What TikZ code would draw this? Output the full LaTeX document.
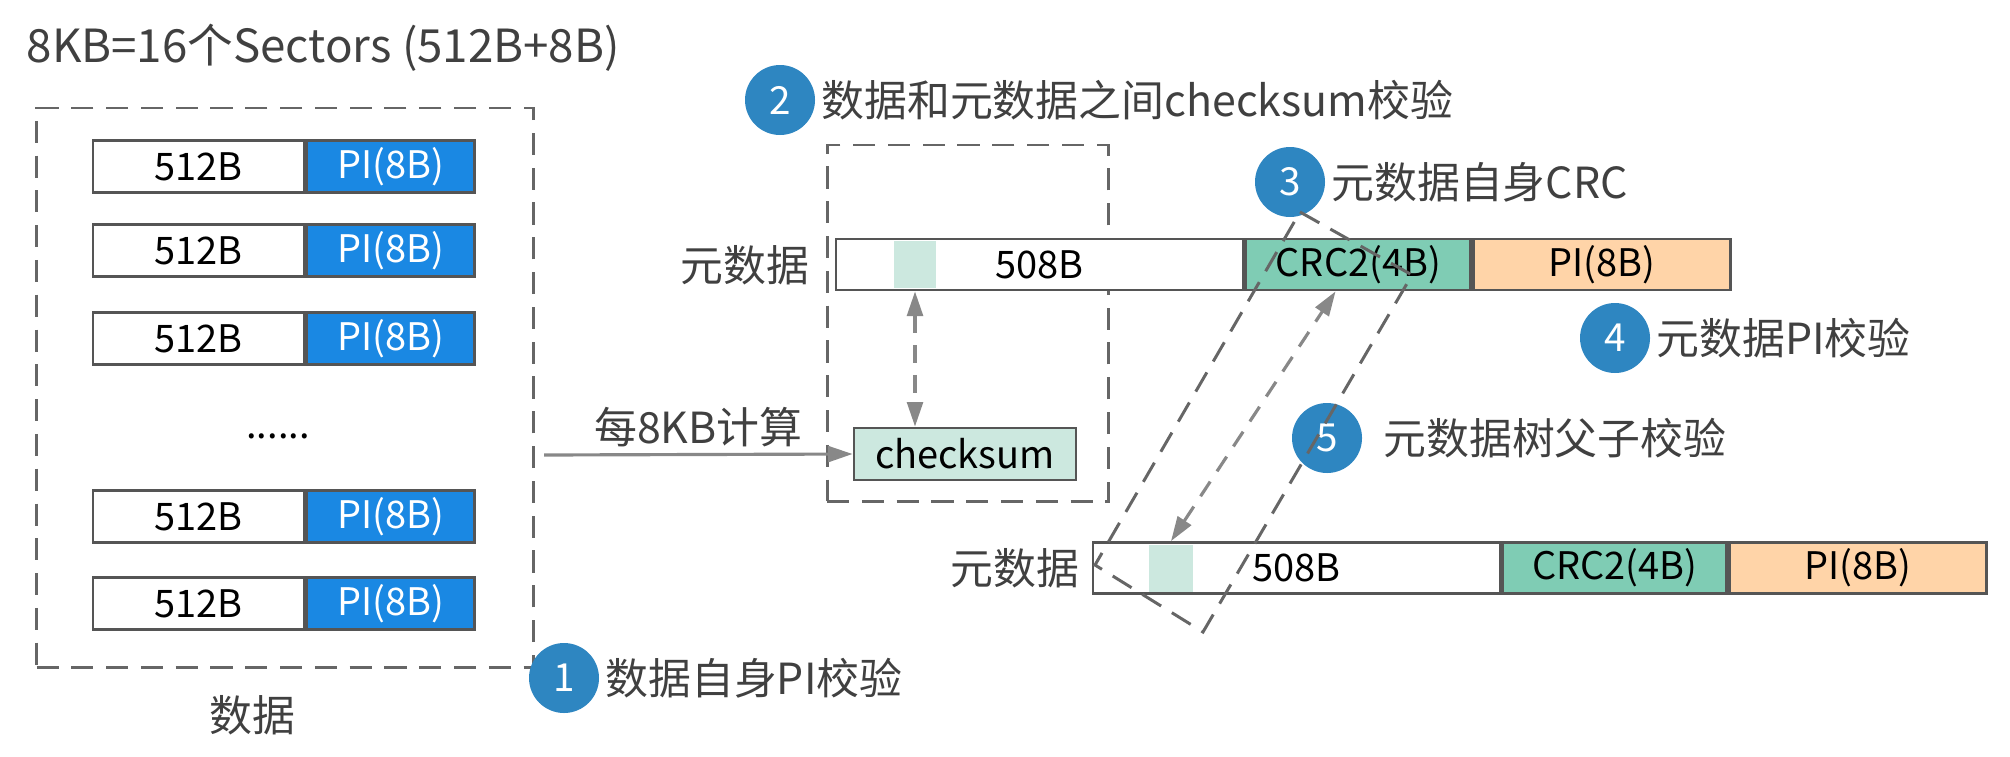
\documentclass[tikz,border=0pt]{standalone}
\usepackage{fontspec}
\setmainfont{Noto Sans CJK SC}
\usetikzlibrary{arrows.meta,calc}

\definecolor{piblue}{HTML}{1A88E3}
\definecolor{stepblue}{HTML}{2E86C1}
\definecolor{crcgreen}{HTML}{7FCCB4}
\definecolor{sumgreen}{HTML}{CCE8DF}
\definecolor{pipeach}{HTML}{FFD4A8}
\definecolor{edgegray}{HTML}{555555}
\definecolor{dashgray}{HTML}{666666}
\definecolor{flowgray}{HTML}{888888}
\definecolor{labelgray}{HTML}{404040}

\tikzset{
	cell/.style={draw=edgegray, line width=0.8pt, minimum height=0.52cm, inner sep=0pt, font=\fontsize{10.8pt}{12pt}\selectfont},
	secbox/.style={cell, fill=white, minimum width=2.11cm},
	pibox/.style={cell, fill=piblue, text=white, minimum width=1.68cm},
	dashframe/.style={draw=dashgray, line width=0.85pt, dash pattern=on 6.3pt off 3.6pt, inner sep=0pt},
	hilite/.style={fill=sumgreen, inner sep=0pt, minimum height=0.47cm},
	flow/.style={draw=flowgray, line width=0.9pt, -{Triangle[length=7pt,width=4.5pt]}},
	dashflow/.style={flow, dash pattern=on 5pt off 3.5pt},
	stepdot/.style={circle, fill=stepblue, text=white, minimum size=0.70cm, inner sep=0pt, font=\fontsize{11pt}{12pt}\selectfont},
	note/.style={text=labelgray, inner sep=0.05cm, font=\fontsize{12.2pt}{14pt}\selectfont}
}

\begin{document}
\begin{tikzpicture}
		%%%%% START %%%%%
		\useasboundingbox (0,0) rectangle (20.10,-7.56);
		
		\node[note, anchor=west, font=\fontsize{13pt}{15pt}\selectfont] (title) at (0.21,-0.48) {8KB=16个Sectors (512B+8B)};
		
		% data sectors
		\node[dashframe, minimum width=4.97cm, minimum height=5.59cm] (dataframe) at (2.85,-3.875) {};
		\node[note] (datalabel) at (2.52,-7.15) {数据};
		
		\node[secbox] (sec1) at (1.985,-1.665) {512B};
		\node[pibox, anchor=west] (pi1) at (sec1.east) {PI(8B)};
		\node[secbox] (sec2) at (1.985,-2.505) {512B};
		\node[pibox, anchor=west] (pi2) at (sec2.east) {PI(8B)};
		\node[secbox] (sec3) at (1.985,-3.385) {512B};
		\node[pibox, anchor=west] (pi3) at (sec3.east) {PI(8B)};
		\node[font=\fontsize{10.8pt}{12pt}\selectfont] (dots) at (2.78,-4.36) {......};
		\node[secbox] (sec4) at (1.985,-5.165) {512B};
		\node[pibox, anchor=west] (pi4) at (sec4.east) {PI(8B)};
		\node[secbox] (sec5) at (1.985,-6.035) {512B};
		\node[pibox, anchor=west] (pi5) at (sec5.east) {PI(8B)};
		
		% checksum
		\node[dashframe, minimum width=2.81cm, minimum height=3.56cm] (sumframe) at (9.675,-3.23) {};
		\node[cell, fill=sumgreen, minimum width=2.22cm] (chk) at (9.65,-4.54) {checksum};
		\coordinate (calcstart) at (5.44,-4.55);
		\draw[flow] (calcstart) -- (chk.west) node[note, midway, above, inner sep=0.06cm] (calclabel) {每8KB计算};
		
		% metadata, upper
		\node[note] (metalabel1) at (7.45,-2.65) {元数据};
		\node[cell, fill=white, minimum width=4.07cm, minimum height=0.51cm] (meta1) at (10.395,-2.645) {};
		\node[hilite, minimum width=0.42cm] (hl1) at (9.15,-2.645) {};
		\node[font=\fontsize{10.8pt}{12pt}\selectfont] at (meta1) {508B};
		\node[cell, fill=crcgreen, minimum width=2.25cm, minimum height=0.51cm, anchor=west] (crc1) at (meta1.east) {CRC2(4B)};
		\node[cell, fill=pipeach, minimum width=2.57cm, minimum height=0.51cm, anchor=west] (pimeta1) at (crc1.east) {PI(8B)};
		
		% metadata, lower
		\node[note] (metalabel2) at (10.15,-5.68) {元数据};
		\node[cell, fill=white, minimum width=4.07cm, minimum height=0.51cm] (meta2) at (12.965,-5.68) {};
		\node[hilite, minimum width=0.44cm] (hl2) at (11.71,-5.68) {};
		\node[font=\fontsize{10.8pt}{12pt}\selectfont] at (meta2) {508B};
		\node[cell, fill=crcgreen, minimum width=2.24cm, minimum height=0.51cm, anchor=west] (crc2) at (meta2.east) {CRC2(4B)};
		\node[cell, fill=pipeach, minimum width=2.57cm, minimum height=0.51cm, anchor=west] (pimeta2) at (crc2.east) {PI(8B)};
		
		\draw[dashflow, {Triangle[length=7pt,width=4.5pt]}-{Triangle[length=7pt,width=4.5pt]}] (hl1 |- meta1.south) -- (hl1 |- chk.north);
		\draw[dashflow, {Triangle[length=7pt,width=4.5pt]}-{Triangle[length=7pt,width=4.5pt]}] (hl2 |- meta2.north) -- ($(crc1.south west)!0.4!(crc1.south east)$);
		
		% steps
		\node[stepdot] (s1) at (5.64,-6.78) {1};
		\node[note, anchor=west] (n1) at (s1.east) {数据自身PI校验};
		\node[stepdot] (s2) at (7.80,-1.00) {2};
		\node[note, anchor=west] (n2) at (s2.east) {数据和元数据之间checksum校验};
		\node[stepdot] (s3) at (12.90,-1.82) {3};
		\node[note, anchor=west] (n3) at (s3.east) {元数据自身CRC};
		\node[stepdot] (s4) at (16.15,-3.38) {4};
		\node[note, anchor=west] (n4) at (s4.east) {元数据PI校验};
		\node[stepdot] (s5) at (13.27,-4.38) {5};
		\node[note, anchor=west] (n5) at ([xshift=0.15cm]s5.east) {元数据树父子校验};
		
		\draw[draw=dashgray, line width=0.85pt, dash pattern=on 6.3pt off 3.6pt] (13.00,-2.12) -- (14.12,-2.75) -- (12.03,-6.32) -- (10.95,-5.65) -- cycle;
		
		%%%%% END %%%%%
	\end{tikzpicture}
\end{document}
